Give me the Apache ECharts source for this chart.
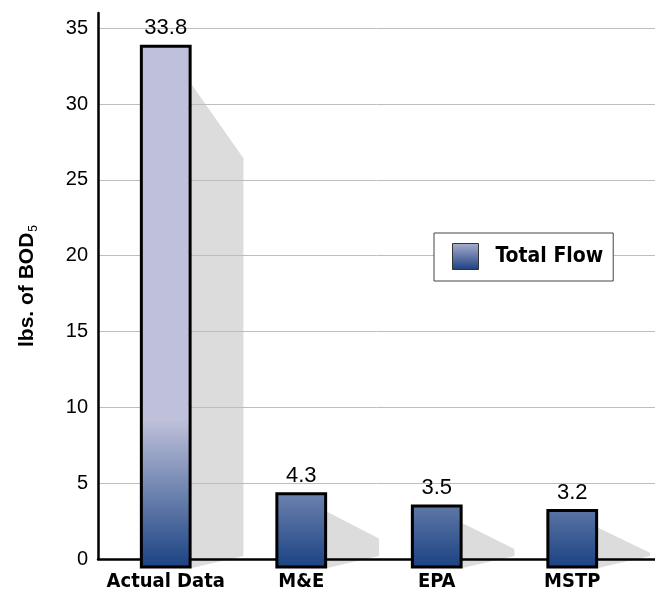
<!DOCTYPE html>
<html>
<head>
<meta charset="utf-8">
<script src="https://cdn.jsdelivr.net/npm/echarts@6/dist/echarts.min.js"></script>
<style>html,body{margin:0;padding:0;background:#fff;}#c{width:655px;height:599px;}</style>
</head>
<body>
<div id="c"></div>
<script>
const categories = ['Actual Data', 'M&E', 'EPA', 'MSTP'];
const totalFlow = [33.8, 4.3, 3.5, 3.2];
const seriesName = 'Total Flow';
const yMin = 0, yMax = 36, yInterval = 5;
const yAxisTitle = 'lbs. of BOD';
const yAxisTitleSub = '5';

const NARROW = "'Liberation Sans Narrow', 'DejaVu Sans Condensed', 'Liberation Sans', sans-serif";
const SANS = "'Liberation Sans', Arial, sans-serif";

const chart = echarts.init(document.getElementById('c'), null, {renderer: 'canvas'});

function barGeom(api) {
  const idx = api.value(0), val = api.value(1);
  const top = api.coord([idx, val]);
  const base = api.coord([idx, 0]);
  const w = api.size([1, 0])[0] * 0.36;
  return {idx, val, cx: top[0], topY: top[1], axisY: base[1], w};
}

const option = {
  animation: false,
  backgroundColor: '#fff',
  grid: [
    {left: 98, right: 15, top: 13, bottom: 40, containLabel: false},
    {left: 98, right: 0, top: 13, bottom: 40, containLabel: false}
  ],
  legend: {
    data: [{
      name: seriesName,
      icon: 'rect',
      itemStyle: {
        color: new echarts.graphic.LinearGradient(0, 0, 0, 1, [
          {offset: 0, color: '#a9afd0'},
          {offset: 1, color: '#1d3f80'}
        ]),
        borderColor: '#333',
        borderWidth: 1
      }
    }],
    left: 434, top: 233,
    orient: 'horizontal',
    itemWidth: 26, itemHeight: 26,
    padding: [10, 10, 11, 18],
    backgroundColor: '#fff',
    borderColor: '#444', borderWidth: 1,
    selectedMode: false,
    textStyle: {fontFamily: NARROW, fontWeight: 'bold', fontSize: 21, color: '#000', padding: [0, 0, 0, 12]}
  },
  xAxis: [
    {
      type: 'category', gridIndex: 0, data: categories,
      axisLine: {show: false}, axisTick: {show: false}, splitLine: {show: false},
      axisLabel: {interval: 0, hideOverlap: false, fontFamily: NARROW, fontWeight: 'bold', fontSize: 20, color: '#000', margin: 13}
    },
    {
      type: 'category', gridIndex: 1, data: [''], z: 1,
      axisLine: {show: true, onZero: false, lineStyle: {color: '#000', width: 2.5}},
      axisTick: {show: false}, axisLabel: {show: false}, splitLine: {show: false}
    }
  ],
  yAxis: [
    {
      type: 'value', gridIndex: 0, min: yMin, max: yMax, interval: yInterval, show: false
    },
    {
      type: 'value', gridIndex: 1, min: yMin, max: yMax, interval: yInterval, z: 1,
      axisLine: {show: true, lineStyle: {color: '#000', width: 2.5}},
      axisTick: {show: false},
      axisLabel: {fontFamily: SANS, fontSize: 20, color: '#000', margin: 10, showMaxLabel: false},
      splitLine: {show: true, showMaxLine: false, lineStyle: {color: '#bdbdbd', width: 1}},
      name: '{a|' + yAxisTitle + '}{s|' + yAxisTitleSub + '}',
      nameLocation: 'middle', nameRotate: 90, nameGap: 58,
      nameTextStyle: {
        rich: {
          a: {fontFamily: SANS, fontWeight: 'bold', fontSize: 21, color: '#000', lineHeight: 26},
          s: {fontFamily: SANS, fontSize: 12, color: '#000', lineHeight: 26, verticalAlign: 'bottom', padding: [10, 0, 0, 1]}
        }
      }
    }
  ],
  series: [
    {
      name: 'shadow', type: 'custom', xAxisIndex: 0, yAxisIndex: 0, z: 0,
      silent: true, legendHoverLink: false,
      data: totalFlow.map((v, i) => [i, v]),
      renderItem: function (params, api) {
        const g = barGeom(api);
        const h = g.axisY - g.topY;
        const right = g.cx + g.w / 2 + 1.5;
        const sw = g.w + 3;
        const y1 = g.topY + 15 + 0.045 * h;
        const y2 = Math.min(g.axisY - 0.85 * h + 35, g.axisY - 6);
        return {
          type: 'polygon',
          shape: {points: [[right, y1], [right + sw, y2], [right + sw, g.axisY - 3], [right, g.axisY + 9]]},
          style: {fill: '#dcdcdc'}
        };
      }
    },
    {
      name: seriesName, type: 'custom', xAxisIndex: 0, yAxisIndex: 0, z: 2,
      data: totalFlow.map((v, i) => [i, v]),
      itemStyle: {color: '#3b5590'},
      renderItem: function (params, api) {
        const g = barGeom(api);
        const lightY = api.coord([0, 9.2])[1];
        const darkY = g.axisY + 9;
        const grad = new echarts.graphic.LinearGradient(0, lightY, 0, darkY, [
          {offset: 0, color: '#bfc1da'},
          {offset: 1, color: '#1a4282'}
        ], true);
        return {
          type: 'group',
          children: [
            {
              type: 'rect',
              shape: {x: g.cx - g.w / 2, y: g.topY, width: g.w, height: g.axisY + 8 - g.topY},
              style: {fill: grad, stroke: '#000', lineWidth: 3}
            },
            {
              type: 'text',
              style: {
                text: String(g.val), x: g.cx, y: g.topY - 7,
                align: 'center', verticalAlign: 'bottom',
                font: '22px ' + SANS, fill: '#000'
              }
            }
          ]
        };
      }
    }
  ]
};
chart.setOption(option);
</script>
</body>
</html>
